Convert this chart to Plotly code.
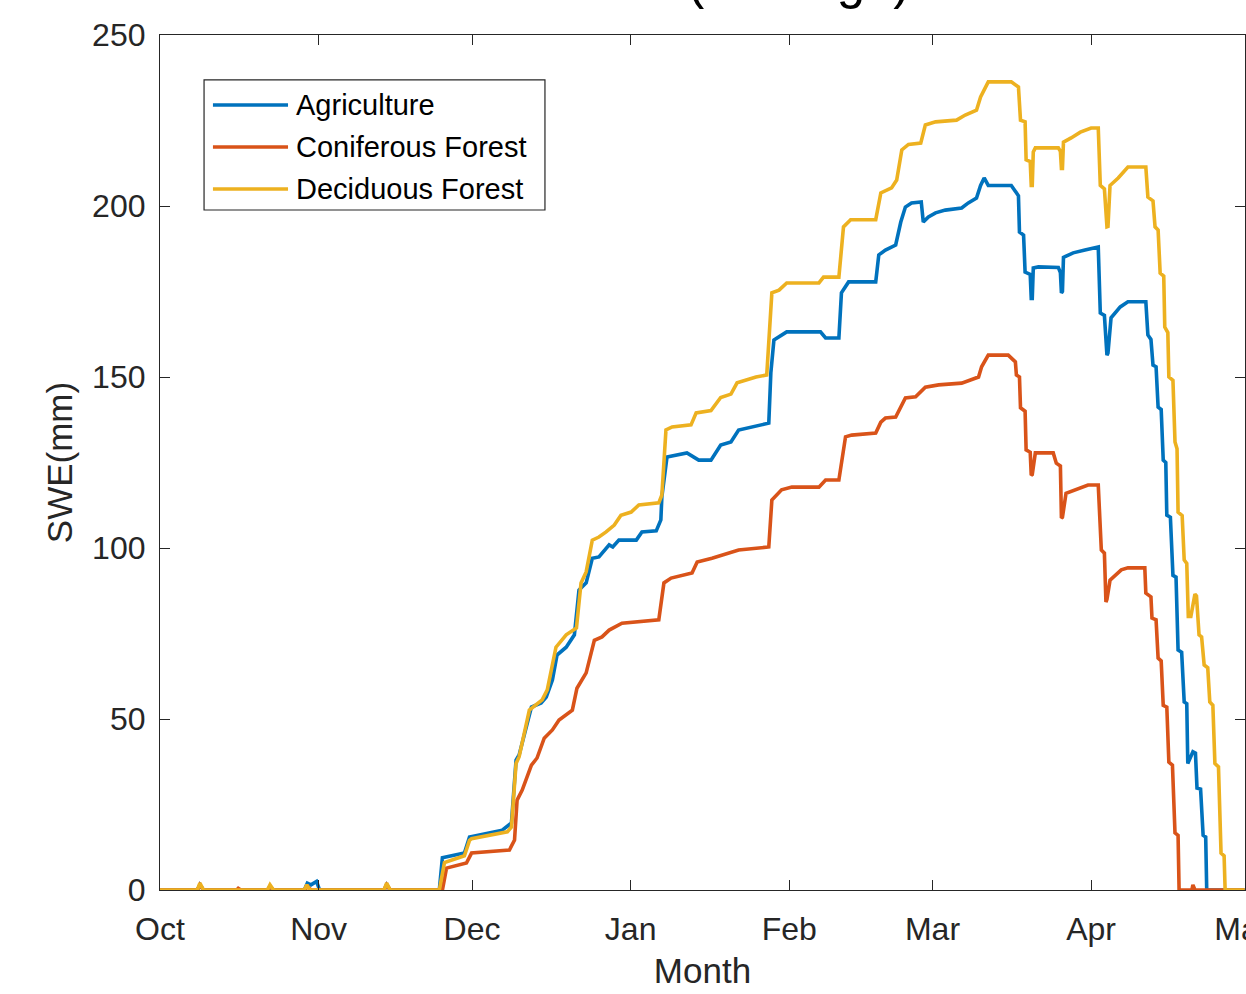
import pandas as pd
import plotly.graph_objects as go

# Snow water equivalent through the 2014-15 snow season, by land cover.
# Days are counted from 1 October; SWE in millimetres.
season_start = pd.Timestamp("2014-10-01")

month_ticks = ["2014-10-01", "2014-11-01", "2014-12-01", "2015-01-01",
               "2015-02-01", "2015-03-01", "2015-04-01", "2015-05-01"]
month_labels = ["Oct", "Nov", "Dec", "Jan", "Feb", "Mar", "Apr", "May"]

swe_ticks = [0, 50, 100, 150, 200, 250]

agri_day = [0, 7.3, 7.8, 8.5, 21.0, 21.5, 22.2, 28.2, 28.8, 29.5,
            30.6, 31.2, 43.8, 44.3, 45.0, 54.6, 55.2, 59.5, 60.5, 66.9,
            68.7, 69.6, 70.2, 72.6, 74.5, 75.5, 76.7, 77.6, 79.4, 81.0,
            81.9, 83.3, 84.5, 85.8, 87.8, 88.5, 89.7, 93.1, 94.2, 97.0,
            97.9, 98.1, 99.1, 103.0, 105.3, 107.7, 109.6, 111.6, 113.1, 116.1,
            119.0, 119.4, 120.0, 122.5, 129.1, 130.1, 132.7, 133.2, 134.6, 139.9,
            140.5, 141.8, 143.8, 144.8, 145.7, 146.9, 148.8, 149.2, 150.2, 151.6,
            153.5, 156.7, 158.0, 159.6, 160.4, 161.1, 161.9, 166.4, 167.2, 167.8,
            168.0, 168.8, 169.1, 170.1, 170.3, 170.5, 170.7, 171.7, 175.6, 176.0,
            176.2, 176.4, 176.6, 178.5, 180.8, 183.4, 183.8, 184.6, 185.1, 185.3,
            185.9, 187.7, 189.2, 192.7, 193.1, 193.7, 194.1, 194.7, 195.1, 195.7,
            196.1, 196.6, 196.8, 197.5, 198.0, 198.6, 199.0, 199.7, 200.2, 200.7,
            200.9, 201.5, 201.9, 202.4, 202.7, 203.4, 203.9, 204.4, 204.6, 212.0]
agri_swe = [0, 0, 1.5, 0, 0, 1, 0, 0, 2, 1.5,
            2.5, 0, 0, 1.5, 0, 0, 9.4, 10.8, 15.5, 17.5,
            19.6, 38, 39.5, 53.5, 54.7, 56.4, 61.4, 68.7, 71, 74.6,
            87.7, 89.8, 97, 97.4, 100.9, 100.3, 102.3, 102.3, 104.7, 105,
            108.2, 115, 126.6, 127.8, 125.7, 125.7, 130.1, 131, 134.5, 135.4,
            136.5, 151.2, 160.8, 163.2, 163.2, 161.4, 161.4, 174.6, 177.8, 177.8,
            185.7, 187.1, 188.6, 195.3, 199.7, 200.9, 201.2, 195.3, 196.8, 198,
            198.8, 199.4, 200.9, 202.3, 206, 208.2, 206, 206, 204, 203,
            192.4, 191.5, 180.7, 180, 173, 173, 181.9, 182.2, 182, 180.5,
            174.6, 175, 185, 186.3, 187.1, 188, 168.7, 168, 156.4, 157,
            167.3, 170.5, 172, 172, 162.3, 161, 153.5, 153, 141.2, 140.5,
            125.7, 125, 109.6, 109, 92, 91.5, 70.2, 69.5, 55, 54.5,
            37, 39, 40.4, 40, 29.8, 29.5, 16, 15.5, 0, 0]

conif_day = [0, 7.3, 7.8, 8.5, 15.0, 15.3, 15.8, 21.0, 21.5, 22.2,
             28.2, 28.9, 29.5, 43.8, 44.3, 45.0, 55.2, 56.0, 59.9, 60.9,
             68.3, 69.3, 69.8, 70.8, 72.6, 73.7, 75.1, 76.7, 78.0, 80.6,
             81.5, 83.3, 84.9, 86.4, 87.8, 90.3, 97.5, 98.5, 99.9, 104.0,
             105.0, 107.9, 113.1, 119.0, 119.6, 121.5, 123.5, 128.8, 130.1, 132.7,
             134.0, 135.2, 139.9, 140.9, 141.8, 143.8, 145.7, 147.7, 149.6, 152.2,
             156.7, 160.0, 160.6, 161.9, 165.8, 167.2, 167.4, 168.0, 168.2, 169.1,
             169.3, 170.1, 170.3, 170.5, 171.1, 174.6, 175.2, 176.0, 176.2, 176.4,
             177.1, 179.9, 181.4, 183.4, 184.0, 184.6, 184.9, 185.1, 185.7, 187.9,
             189.2, 192.5, 192.7, 193.7, 193.9, 194.7, 195.1, 195.7, 196.1, 196.8,
             197.2, 197.9, 198.4, 199.0, 199.2, 201.7, 201.9, 202.3, 212.0]
conif_swe = [0, 0, 1.5, 0, 0, 0.5, 0, 0, 1, 0,
             0, 1, 0, 0, 1.5, 0, 0, 6.4, 7.9, 10.8,
             11.7, 14.6, 26.3, 29.2, 36.5, 38.6, 44.4, 46.8, 49.7, 52.6,
             59, 63.5, 73, 74, 76, 78, 79, 89.8, 91.2, 92.7,
             95.9, 97, 99.4, 100.3, 114, 117, 117.8, 117.8, 119.9, 119.9,
             132.5, 133, 133.6, 136.8, 138, 138.3, 143.9, 144.2, 147, 147.7,
             148.2, 150, 153, 156.4, 156.4, 154.4, 150.6, 150, 141, 140,
             128.7, 128, 121.3, 121.5, 127.8, 127.8, 124.8, 124, 108.8, 109,
             116, 117.5, 118.4, 118.4, 99.4, 98.5, 84.2, 85, 90.6, 93.6,
             94.2, 94.2, 86.8, 85.7, 79.5, 79, 67.8, 67, 54, 53.5,
             37.4, 36.5, 16.7, 16, 0, 0, 1.5, 0, 0]

decid_day = [0, 7.3, 7.8, 8.5, 21.0, 21.5, 22.2, 28.2, 28.7, 29.3,
             43.8, 44.3, 45.0, 54.6, 55.6, 59.5, 60.5, 60.9, 67.9, 68.7,
             69.6, 70.2, 72.2, 74.7, 75.7, 77.4, 79.4, 81.4, 82.3, 83.3,
             84.5, 85.8, 87.2, 88.8, 90.1, 92.1, 93.6, 97.5, 98.1, 98.9,
             100.1, 103.8, 104.8, 107.7, 109.6, 111.6, 112.8, 116.5, 118.6, 119.6,
             121.0, 122.5, 128.8, 129.7, 132.7, 133.6, 135.0, 139.9, 140.9, 143.0,
             144.0, 145.0, 146.3, 148.7, 149.6, 151.6, 155.7, 157.4, 159.6, 160.4,
             161.9, 166.4, 167.8, 168.2, 169.1, 169.3, 170.1, 170.3, 170.5, 170.7,
             171.1, 175.6, 176.0, 176.2, 176.4, 176.6, 178.1, 179.9, 182.0, 183.4,
             183.8, 184.6, 185.1, 185.3, 185.7, 187.3, 189.2, 192.7, 193.1, 194.1,
             194.5, 195.1, 195.5, 196.2, 196.4, 197.0, 197.2, 198.0, 198.4, 198.8,
             199.0, 199.8, 200.2, 200.7, 201.0, 201.5, 202.3, 202.6, 203.1, 203.6,
             204.1, 204.8, 205.2, 205.8, 206.2, 206.9, 207.4, 208.0, 208.2, 212.0]
decid_swe = [0, 0, 2, 0, 0, 1.5, 0, 0, 1.5, 0,
             0, 2, 0, 0, 8, 10, 14.5, 15, 17, 18.4,
             37, 39, 52.6, 55.6, 58.5, 71, 74.6, 76.6, 89.8, 93,
             102.3, 103.2, 104.7, 106.7, 109.6, 110.5, 112.6, 113.2, 115.5, 134.5,
             135.4, 136, 139.5, 140.2, 144, 145, 148.3, 150, 150.6, 174.6,
             175.4, 177.5, 177.5, 179.2, 179.2, 193.9, 196, 196, 203.8, 205.3,
             207.6, 216.4, 218, 218.4, 223.7, 224.6, 225.1, 226.6, 228, 231.9,
             236.3, 236.3, 234.8, 225.1, 224.6, 213.5, 213, 206, 206, 215.8,
             217, 217, 216, 211, 211, 218.7, 219.9, 221.6, 222.8, 222.8,
             206, 205, 193.9, 194, 206, 208.2, 211.4, 211.4, 202.6, 201.5,
             193.9, 193, 180.4, 179.5, 164.6, 163, 150, 149, 131, 129,
             110.5, 109.5, 96.5, 95.5, 80, 80, 86.5, 86, 74.6, 74,
             65.8, 65, 55, 54, 37, 36, 10.8, 10, 0, 0]

series_names = ["Agriculture", "Coniferous Forest", "Deciduous Forest"]
series_days = [agri_day, conif_day, decid_day]
series_swe = [agri_swe, conif_swe, decid_swe]
series_colors = ["#0072BD", "#D95319", "#EDB120"]

AXIS = "#262626"
FONT = "Liberation Sans, Arial, Helvetica, sans-serif"


def to_dates(days):
    return season_start + pd.to_timedelta(days, unit="D")


fig = go.Figure()
for name, days, swe, color in zip(series_names, series_days, series_swe, series_colors):
    fig.add_trace(go.Scatter(
        x=to_dates(days), y=swe, mode="lines", name=name,
        line=dict(color=color, width=3.6), showlegend=False,
    ))

# Boxed legend in the upper left of the axes, with long line samples
leg_x0, leg_x1, leg_y0, leg_y1 = 0.0406, 0.3548, 0.7953, 0.9474
row_y = [0.9181, 0.8690, 0.8199]
fig.add_shape(type="rect", xref="paper", yref="paper",
              x0=leg_x0, x1=leg_x1, y0=leg_y0, y1=leg_y1,
              line=dict(color=AXIS, width=1.2), fillcolor="white", layer="above")
for name, color, yy in zip(series_names, series_colors, row_y):
    fig.add_shape(type="line", xref="paper", yref="paper",
                  x0=0.0488, x1=0.1180, y0=yy, y1=yy,
                  line=dict(color=color, width=3.6), layer="above")
    fig.add_annotation(xref="paper", yref="paper", x=0.1233, y=yy,
                       text=name, showarrow=False, xanchor="left", yanchor="middle",
                       font=dict(family=FONT, size=29, color="#000000"))

# Figure title sits above the visible area of the page
fig.add_annotation(xref="paper", yref="paper", x=0.693, y=1.0285,
                   text="SWE (Average)", showarrow=False,
                   xanchor="right", yanchor="bottom",
                   font=dict(family=FONT, size=51, color="#000000"))

axis_common = dict(
    showline=True, linecolor=AXIS, linewidth=1.2, mirror="ticks",
    ticks="inside", ticklen=10, tickwidth=1.2, tickcolor=AXIS,
    showgrid=False, zeroline=False, automargin=False,
    tickfont=dict(family=FONT, size=32, color=AXIS),
)

fig.update_layout(
    width=1246, height=994,
    margin=dict(l=160, r=1, t=35, b=104, pad=0, autoexpand=False),
    paper_bgcolor="white", plot_bgcolor="white",
    font=dict(family=FONT, color=AXIS),
    xaxis=dict(
        type="date",
        range=["2014-10-01", "2015-05-01 02:00"],
        tickvals=month_ticks, ticktext=month_labels,
        ticklabelstandoff=10,
        ticklabeloverflow="allow",
        title=dict(text="Month", font=dict(family=FONT, size=35, color=AXIS), standoff=12),
        **axis_common,
    ),
    yaxis=dict(
        range=[0, 250],
        tickvals=swe_ticks,
        ticklabelstandoff=7,
        title=dict(text="SWE(mm)", font=dict(family=FONT, size=35, color=AXIS), standoff=8),
        **axis_common,
    ),
)

fig.write_html("out.html")
